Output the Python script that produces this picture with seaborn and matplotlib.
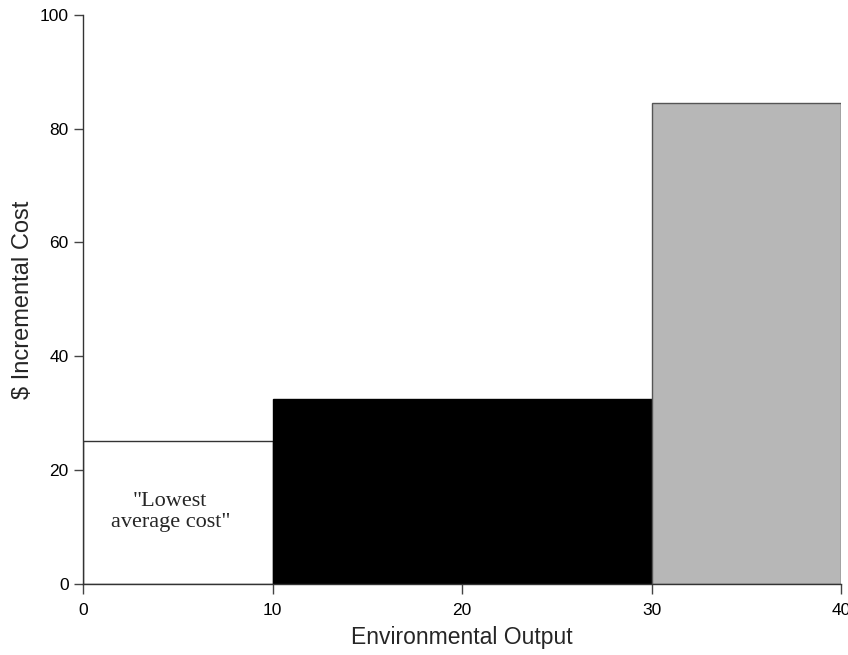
import numpy as np
import pandas as pd
import matplotlib
matplotlib.use("Agg")
import matplotlib.pyplot as plt
import seaborn as sns

# Output segments (x range) and their incremental cost
segment_start = [0, 10, 30]
segment_end = [10, 30, 40]
incremental_cost = [25, 32.5, 84.5]
segment_colors = ["white", "black", "#b7b7b7"]
edge_colors = ["#333333", "black", "#555555"]

x_ticks = [0, 10, 20, 30, 40]
y_ticks = [0, 20, 40, 60, 80, 100]

sns.set_style("ticks")
plt.rcParams['font.family'] = ['Liberation Sans', 'DejaVu Sans']

df = pd.DataFrame({
    'mid': [(a + b) / 2 for a, b in zip(segment_start, segment_end)],
    'cost': incremental_cost,
})
bins = segment_start + [segment_end[-1]]

fig = plt.figure(figsize=(8.48, 6.55), dpi=100)
ax = fig.add_axes([0.098, 0.109, 0.894, 0.868])

sns.histplot(data=df, x='mid', weights='cost', bins=bins, ax=ax,
             element='bars', fill=True, linewidth=1.0)

for patch, fc, ec in zip(ax.patches, segment_colors, edge_colors):
    patch.set_facecolor(fc)
    patch.set_edgecolor(ec)
    patch.set_alpha(1)
    patch.set_linewidth(1.0)

ax.text(4.6, 12.6, '"Lowest\naverage cost"', ha='center', va='center',
        fontsize=16, family=['Liberation Serif', 'DejaVu Serif'],
        linespacing=1.15)

ax.set_xlim(0, 40)
ax.set_ylim(0, 100)
ax.set_xticks(x_ticks)
ax.set_yticks(y_ticks)
ax.tick_params(direction='out', width=1, colors='#444444',
               labelcolor='black', labelsize=12.5)
ax.tick_params(axis='x', length=7.5, pad=6.5)
ax.tick_params(axis='y', length=6.5, pad=4)
for s in ['left', 'bottom']:
    ax.spines[s].set_color('#333333')
    ax.spines[s].set_linewidth(1)
sns.despine(ax=ax)

ax.set_xlabel('Environmental Output', fontsize=16.5, labelpad=6)
ax.set_ylabel('$ Incremental Cost', fontsize=17, labelpad=4)
ax.set_facecolor('white')

fig.savefig('out.png', dpi=100)
